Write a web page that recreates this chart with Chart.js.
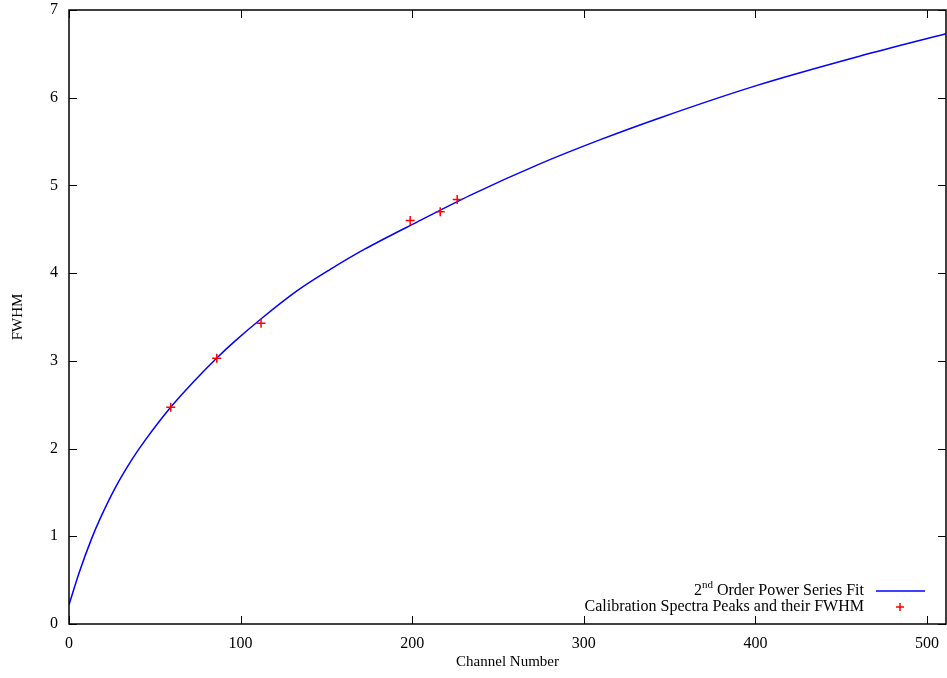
<!DOCTYPE html>
<html>
<head>
<meta charset="utf-8">
<script src="https://cdn.jsdelivr.net/npm/chart.js@4/dist/chart.umd.min.js"></script>
<style>
  html, body { margin: 0; padding: 0; background: #fff; }
  #wrap { width: 947px; height: 678px; }
</style>
</head>
<body>
<div id="wrap"><canvas id="fwhmChart"></canvas></div>
<script>
// fit curve, sampled along the channel range
var fitChannels = [0, 6, 13, 18, 27, 37, 44, 59, 73, 86, 97, 112, 133, 152, 172, 203, 234, 273, 310, 345, 400, 461, 511];
var fitFwhm     = [0.22, 0.59, 0.965, 1.195, 1.555, 1.885, 2.085, 2.465, 2.77, 3.03, 3.23, 3.48, 3.80, 4.04, 4.27, 4.585, 4.89, 5.235, 5.525, 5.775, 6.135, 6.475, 6.73];

// calibration peaks
var peakChannels = [59.3, 86.1, 111.9, 198.8, 216.3, 226.2];
var peakFwhm     = [2.47, 3.03, 3.43, 4.60, 4.70, 4.84];

var xTicks = [0, 100, 200, 300, 400, 500];
var yTicks = [0, 1, 2, 3, 4, 5, 6, 7];

var serif = "'Liberation Serif', 'DejaVu Serif', serif";

function toPoints(xs, ys) {
  return xs.map(function (x, i) { return { x: x, y: ys[i] }; });
}

// border box with inward ticks on all four sides, gnuplot style
var framePlugin = {
  id: 'frame',
  afterDatasetsDraw: function (chart) {
    var ctx = chart.ctx, a = chart.chartArea;
    var xs = chart.scales.x, ys = chart.scales.y;
    var len = 8;
    ctx.save();
    ctx.strokeStyle = '#000';
    ctx.lineWidth = 1;
    ctx.beginPath();
    xTicks.forEach(function (v) {
      var px = Math.round(xs.getPixelForValue(v)) + 0.5;
      ctx.moveTo(px, a.bottom); ctx.lineTo(px, a.bottom - len);
      ctx.moveTo(px, a.top); ctx.lineTo(px, a.top + len);
    });
    yTicks.forEach(function (v) {
      var py = Math.round(ys.getPixelForValue(v)) + 0.5;
      ctx.moveTo(a.left, py); ctx.lineTo(a.left + len, py);
      ctx.moveTo(a.right, py); ctx.lineTo(a.right - len, py);
    });
    ctx.stroke();
    ctx.lineWidth = 1.5;
    ctx.strokeRect(a.left, a.top, a.right - a.left, a.bottom - a.top);
    ctx.restore();
  }
};

// key in the lower right corner
var keyPlugin = {
  id: 'key',
  afterDraw: function (chart) {
    var ctx = chart.ctx;
    var textRight = 864, sampleL = 876, sampleR = 925;
    var y1 = 591, y2 = 607;
    ctx.save();
    ctx.fillStyle = '#000';
    ctx.textBaseline = 'middle';
    ctx.textAlign = 'left';
    ctx.font = '16px ' + serif;
    var rest = ' Order Power Series Fit';
    var wRest = ctx.measureText(rest).width;
    ctx.font = '11px ' + serif;
    var wSup = ctx.measureText('nd').width;
    ctx.font = '16px ' + serif;
    var wTwo = ctx.measureText('2').width;
    var x0 = textRight - wRest - wSup - wTwo;
    ctx.fillText('2', x0, y1);
    ctx.font = '11px ' + serif;
    ctx.fillText('nd', x0 + wTwo, y1 - 6);
    ctx.font = '16px ' + serif;
    ctx.fillText(rest, x0 + wTwo + wSup, y1);
    ctx.textAlign = 'right';
    ctx.fillText('Calibration Spectra Peaks and their FWHM', textRight, y2);

    ctx.strokeStyle = '#0000ff';
    ctx.lineWidth = 1.5;
    ctx.beginPath();
    ctx.moveTo(sampleL, y1); ctx.lineTo(sampleR, y1);
    ctx.stroke();

    ctx.strokeStyle = '#ff0000';
    ctx.lineWidth = 1.5;
    var cx = 900, cy = y2, r = 4;
    ctx.beginPath();
    ctx.moveTo(cx - r, cy); ctx.lineTo(cx + r, cy);
    ctx.moveTo(cx, cy - r); ctx.lineTo(cx, cy + r);
    ctx.stroke();
    ctx.restore();
  }
};

var ctx = document.getElementById('fwhmChart');
var fwhmChart = new Chart(ctx, {
  type: 'scatter',
  data: {
    datasets: [
      {
        label: 'Calibration Spectra Peaks and their FWHM',
        data: toPoints(peakChannels, peakFwhm),
        pointStyle: 'cross',
        pointRadius: 4.5,
        pointBorderColor: '#ff0000',
        pointBorderWidth: 1.5,
        showLine: false
      },
      {
        label: '2nd Order Power Series Fit',
        data: toPoints(fitChannels, fitFwhm),
        showLine: true,
        borderColor: '#0000ff',
        borderWidth: 1.5,
        pointRadius: 0,
        cubicInterpolationMode: 'monotone'
      }
    ]
  },
  options: {
    responsive: true,
    maintainAspectRatio: false,
    animation: false,
    layout: {
      autoPadding: false,
      padding: { top: 10, right: 1, left: 0, bottom: 0 }
    },
    plugins: {
      legend: { display: false },
      tooltip: { enabled: false }
    },
    scales: {
      x: {
        type: 'linear',
        min: 0,
        max: 511,
        afterFit: function (s) {
          s.height = 54;
          s.paddingLeft = 0;
          s.paddingRight = 0;
        },
        grid: { display: false },
        border: { display: false },
        ticks: {
          stepSize: 100,
          includeBounds: false,
          color: '#000',
          padding: 2,
          font: { family: serif, size: 16 }
        },
        title: {
          display: true,
          text: 'Channel Number',
          color: '#000',
          padding: { top: 0, bottom: 7 },
          font: { family: serif, size: 15 }
        }
      },
      y: {
        type: 'linear',
        min: 0,
        max: 7,
        afterFit: function (s) {
          s.width = 69;
          s.paddingTop = 0;
          s.paddingBottom = 0;
        },
        grid: { display: false },
        border: { display: false },
        ticks: {
          stepSize: 1,
          color: '#000',
          padding: 3,
          font: { family: serif, size: 16 }
        },
        title: {
          display: true,
          text: 'FWHM',
          color: '#000',
          padding: { top: 9, bottom: 0 },
          font: { family: serif, size: 15 }
        }
      }
    }
  },
  plugins: [framePlugin, keyPlugin]
});
</script>
</body>
</html>
